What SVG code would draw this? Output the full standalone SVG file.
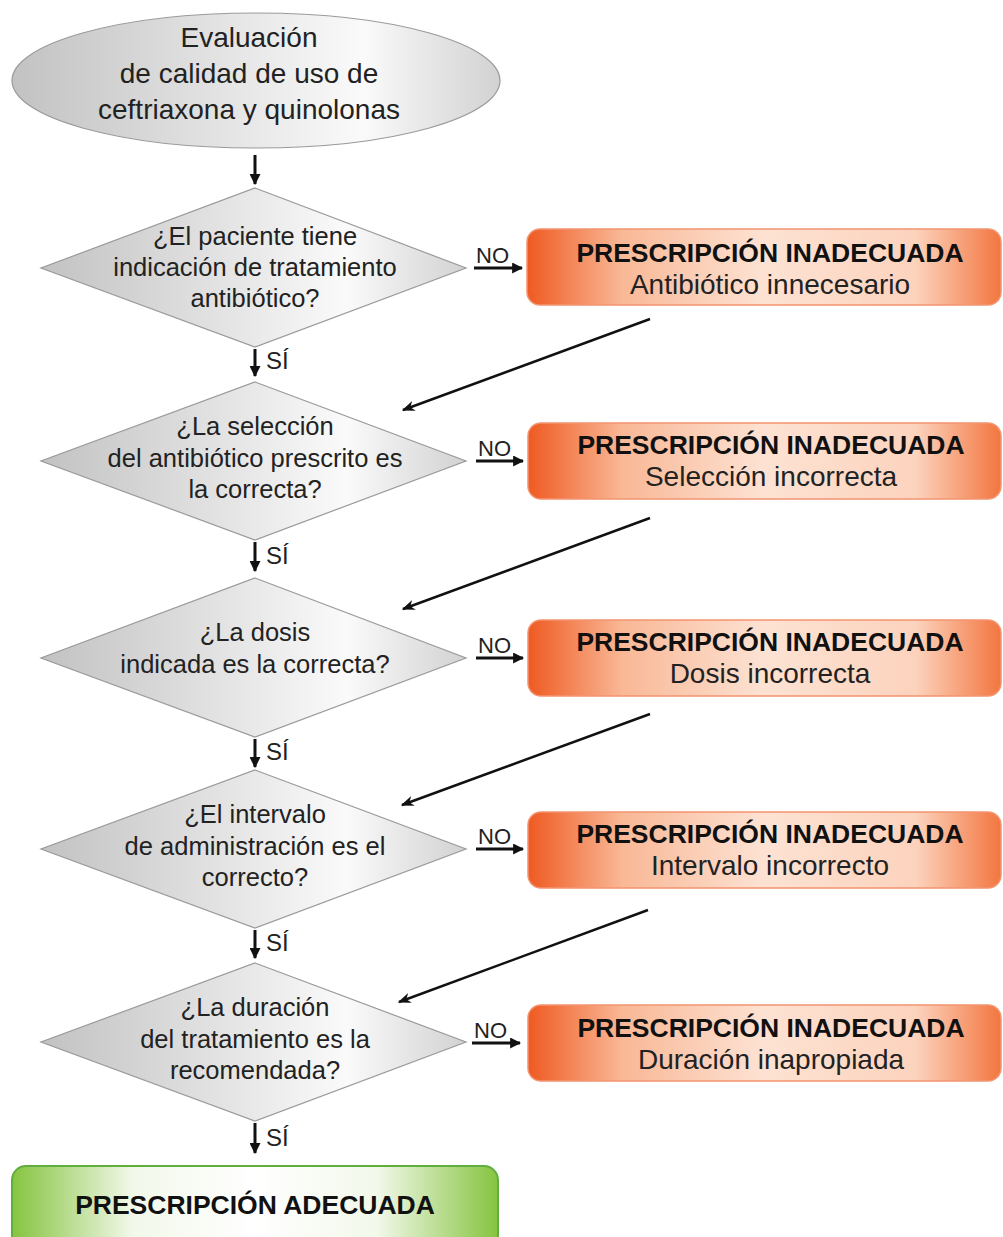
<svg xmlns="http://www.w3.org/2000/svg" width="1003" height="1237" viewBox="0 0 1003 1237">
  <defs>
    <linearGradient id="gGray" x1="0" y1="0" x2="1" y2="0">
      <stop offset="0" stop-color="#c2c2c2"/>
      <stop offset="0.72" stop-color="#fafafa"/>
      <stop offset="1" stop-color="#d2d2d2"/>
    </linearGradient>
    <linearGradient id="gOrange" x1="0" y1="0" x2="1" y2="0">
      <stop offset="0" stop-color="#ef5a22"/>
      <stop offset="0.2" stop-color="#f9b896"/>
      <stop offset="0.5" stop-color="#fde2d3"/>
      <stop offset="0.82" stop-color="#fcd3bd"/>
      <stop offset="1" stop-color="#f2763f"/>
    </linearGradient>
    <linearGradient id="gGreen" x1="0" y1="0" x2="1" y2="0">
      <stop offset="0" stop-color="#86c440"/>
      <stop offset="0.25" stop-color="#f2f8ea"/>
      <stop offset="0.5" stop-color="#ffffff"/>
      <stop offset="0.75" stop-color="#f2f8ea"/>
      <stop offset="1" stop-color="#86c440"/>
    </linearGradient>
    <marker id="ah" viewBox="0 0 10 10" refX="9" refY="5" markerWidth="11" markerHeight="11" markerUnits="userSpaceOnUse" orient="auto">
      <path d="M0,0 L10,5 L0,10 z" fill="#111"/>
    </marker>
    <marker id="ahs" viewBox="0 0 10 10" refX="9" refY="5" markerWidth="13" markerHeight="13" markerUnits="userSpaceOnUse" orient="auto">
      <path d="M0,1 L10,5 L0,9 L3,5 z" fill="#111"/>
    </marker>
  </defs>
  <style>
    .q { fill: url(#gGray); stroke: #9a9a9a; stroke-width: 1.2; }
    .qt { font-family: "Liberation Sans", Arial, sans-serif; font-size: 25.5px; fill: #222; text-anchor: middle; }
    .et { font-family: "Liberation Sans", Arial, sans-serif; font-size: 28px; fill: #222; text-anchor: middle; }
    .ob { fill: url(#gOrange); stroke: #f39470; stroke-width: 1.5; }
    .ot { font-family: "Liberation Sans", Arial, sans-serif; font-size: 26.5px; font-weight: bold; fill: #111; text-anchor: middle; }
    .os { font-family: "Liberation Sans", Arial, sans-serif; font-size: 28px; fill: #222; text-anchor: middle; }
    .gb { fill: url(#gGreen); stroke: #5fae3e; stroke-width: 2; }
    .lab { font-family: "Liberation Sans", Arial, sans-serif; font-size: 22px; fill: #222; }
    .si { font-family: "Liberation Sans", Arial, sans-serif; font-size: 24px; fill: #222; }
    .c { stroke: #111; stroke-width: 3; fill: none; marker-end: url(#ah); }
    .d { stroke: #111; stroke-width: 2.5; fill: none; marker-end: url(#ahs); }
  </style>

  <g id="start">
    <ellipse cx="256" cy="80.5" rx="244" ry="67.5" class="q"/>
    <text class="et" x="249" y="47">Evaluación</text>
    <text class="et" x="249" y="83">de calidad de uso de</text>
    <text class="et" x="249" y="119">ceftriaxona y quinolonas</text>
  </g>

  <g id="q1">
    <polygon class="q" points="255,188 466,268 255,347 41,268"/>
    <text class="qt" x="255" y="245">¿El paciente tiene</text>
    <text class="qt" x="255" y="276">indicación de tratamiento</text>
    <text class="qt" x="255" y="307">antibiótico?</text>
  </g>
  <g id="q2">
    <polygon class="q" points="255,382 466,461 255,540 41,461"/>
    <text class="qt" x="255" y="435">¿La selección</text>
    <text class="qt" x="255" y="467">del antibiótico prescrito es</text>
    <text class="qt" x="255" y="498">la correcta?</text>
  </g>
  <g id="q3">
    <polygon class="q" points="255,578 466,658 255,737 41,658"/>
    <text class="qt" x="255" y="641">¿La dosis</text>
    <text class="qt" x="255" y="673">indicada es la correcta?</text>
  </g>
  <g id="q4">
    <polygon class="q" points="255,770 466,849 255,928 41,849"/>
    <text class="qt" x="255" y="823">¿El intervalo</text>
    <text class="qt" x="255" y="855">de administración es el</text>
    <text class="qt" x="255" y="886">correcto?</text>
  </g>
  <g id="q5">
    <polygon class="q" points="255,963 466,1042 255,1121 41,1042"/>
    <text class="qt" x="255" y="1016">¿La duración</text>
    <text class="qt" x="255" y="1048">del tratamiento es la</text>
    <text class="qt" x="255" y="1079">recomendada?</text>
  </g>

  <g id="r1">
    <rect class="ob" x="527" y="229" width="474" height="76" rx="13"/>
    <text class="ot" x="770" y="262">PRESCRIPCIÓN INADECUADA</text>
    <text class="os" x="770" y="294">Antibiótico innecesario</text>
  </g>
  <g id="r2">
    <rect class="ob" x="528" y="423" width="473" height="76" rx="13"/>
    <text class="ot" x="771" y="454">PRESCRIPCIÓN INADECUADA</text>
    <text class="os" x="771" y="486">Selección incorrecta</text>
  </g>
  <g id="r3">
    <rect class="ob" x="528" y="620" width="473" height="76" rx="13"/>
    <text class="ot" x="770" y="651">PRESCRIPCIÓN INADECUADA</text>
    <text class="os" x="770" y="683">Dosis incorrecta</text>
  </g>
  <g id="r4">
    <rect class="ob" x="528" y="812" width="473" height="76" rx="13"/>
    <text class="ot" x="770" y="843">PRESCRIPCIÓN INADECUADA</text>
    <text class="os" x="770" y="875">Intervalo incorrecto</text>
  </g>
  <g id="r5">
    <rect class="ob" x="528" y="1005" width="473" height="76" rx="13"/>
    <text class="ot" x="771" y="1037">PRESCRIPCIÓN INADECUADA</text>
    <text class="os" x="771" y="1069">Duración inapropiada</text>
  </g>

  <g id="end">
    <rect class="gb" x="12" y="1166" width="486" height="110" rx="14"/>
    <text class="ot" x="255" y="1214">PRESCRIPCIÓN ADECUADA</text>
  </g>

  <g id="connectors">
    <line class="c" x1="255" y1="155" x2="255" y2="184"/>
    <line class="c" x1="255" y1="349" x2="255" y2="376"/>
    <line class="c" x1="255" y1="542" x2="255" y2="571"/>
    <line class="c" x1="255" y1="739" x2="255" y2="767"/>
    <line class="c" x1="255" y1="930" x2="255" y2="958"/>
    <line class="c" x1="255" y1="1123" x2="255" y2="1153"/>

    <line class="c" x1="474" y1="268" x2="522" y2="268"/>
    <line class="c" x1="476" y1="461" x2="523" y2="461"/>
    <line class="c" x1="476" y1="658" x2="523" y2="658"/>
    <line class="c" x1="476" y1="849" x2="523" y2="849"/>
    <line class="c" x1="472" y1="1043" x2="520" y2="1043"/>

    <line class="d" x1="650" y1="319" x2="403" y2="410"/>
    <line class="d" x1="650" y1="518" x2="403" y2="609"/>
    <line class="d" x1="650" y1="714" x2="402" y2="805"/>
    <line class="d" x1="648" y1="910" x2="399" y2="1002"/>

    <text class="si" x="266" y="369">SÍ</text>
    <text class="si" x="266" y="564">SÍ</text>
    <text class="si" x="266" y="760">SÍ</text>
    <text class="si" x="266" y="951">SÍ</text>
    <text class="si" x="266" y="1146">SÍ</text>

    <text class="lab" x="476" y="263">NO</text>
    <text class="lab" x="478" y="456">NO</text>
    <text class="lab" x="478" y="653">NO</text>
    <text class="lab" x="478" y="844">NO</text>
    <text class="lab" x="474" y="1038">NO</text>
  </g>
</svg>
